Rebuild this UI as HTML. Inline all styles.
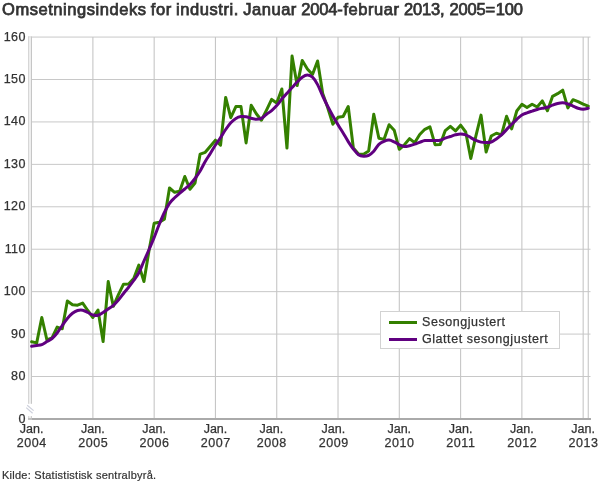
<!DOCTYPE html>
<html><head><meta charset="utf-8"><style>
*{margin:0;padding:0;box-sizing:border-box}
html,body{width:610px;height:488px;background:#fff;overflow:hidden}
body{position:relative;will-change:transform;font-family:"Liberation Sans",sans-serif;color:#333}
.title{position:absolute;left:2px;top:-0.5px;font-size:16.5px;font-weight:normal;-webkit-text-stroke:0.75px #333;color:#333;white-space:nowrap;letter-spacing:0.55px;word-spacing:-0.8px}
.title .d{letter-spacing:-0.15px}
svg{position:absolute;left:0;top:0}
.g{stroke:#c8c8c8;stroke-width:1}
.gv{stroke:#c6c6c6;stroke-width:1.1}
.yl{position:absolute;right:584.2px;width:40px;text-align:right;font-size:12.5px;line-height:17px;letter-spacing:0.4px;-webkit-text-stroke:0.25px #333}
.xl{position:absolute;top:422.1px;width:60px;text-align:center;font-size:12.5px;line-height:14px;-webkit-text-stroke:0.25px #333}
.xl span{letter-spacing:0.55px;margin-right:-0.55px}
.leg{position:absolute;left:380px;top:310.5px;width:180px;height:38.5px;border:1px solid #d2d2d2;background:#fff}
.li{position:absolute;left:41px;font-size:12.5px;white-space:nowrap;letter-spacing:0.55px;-webkit-text-stroke:0.25px #333}
.ls{position:absolute;left:8px;width:28px;height:3px}
.src{position:absolute;left:2px;top:468.8px;font-size:11px;white-space:nowrap;letter-spacing:0.25px;-webkit-text-stroke:0.2px #333}
</style></head><body>
<div class="title">Omsetningsindeks for industri. Januar <span class="d">2004</span>-februar <span class="d">2013</span>, <span class="d">2005</span>=<span class="d">100</span></div>
<svg width="610" height="488" viewBox="0 0 610 488">
<line x1="28" x2="590.5" y1="376.51" y2="376.51" class="g"/>
<line x1="28" x2="590.5" y1="334.08" y2="334.08" class="g"/>
<line x1="28" x2="590.5" y1="291.65" y2="291.65" class="g"/>
<line x1="28" x2="590.5" y1="249.22" y2="249.22" class="g"/>
<line x1="28" x2="590.5" y1="206.79" y2="206.79" class="g"/>
<line x1="28" x2="590.5" y1="164.36" y2="164.36" class="g"/>
<line x1="28" x2="590.5" y1="121.93" y2="121.93" class="g"/>
<line x1="28" x2="590.5" y1="79.50" y2="79.50" class="g"/>
<line x1="28" x2="590.5" y1="37.07" y2="37.07" class="g"/>
<line x1="92.88" x2="92.88" y1="37" y2="418" class="gv"/>
<line x1="154.17" x2="154.17" y1="37" y2="418" class="gv"/>
<line x1="215.45" x2="215.45" y1="37" y2="418" class="gv"/>
<line x1="276.74" x2="276.74" y1="37" y2="418" class="gv"/>
<line x1="338.02" x2="338.02" y1="37" y2="418" class="gv"/>
<line x1="399.30" x2="399.30" y1="37" y2="418" class="gv"/>
<line x1="460.59" x2="460.59" y1="37" y2="418" class="gv"/>
<line x1="521.87" x2="521.87" y1="37" y2="418" class="gv"/>
<line x1="583.16" x2="583.16" y1="37" y2="418" class="gv"/>
<line x1="588.26" x2="588.26" y1="37" y2="418" class="gv"/>
<rect x="28" y="36.5" width="1" height="367.3" fill="#d6d6d6"/>
<rect x="29" y="37.5" width="2" height="366.3" fill="#eeeeee"/>
<rect x="31" y="36.5" width="1" height="367.3" fill="#c6c6c6"/>
<line x1="27.2" y1="405.3" x2="33.6" y2="410.6" stroke="#cdd0dc" stroke-width="1.2"/>
<line x1="26.2" y1="407.6" x2="32.6" y2="413.2" stroke="#cdd0dc" stroke-width="1.2"/>
<rect x="28" y="416" width="1" height="2" fill="#dcdcdc"/><rect x="29" y="416" width="2" height="2" fill="#f0f0f0"/><rect x="31" y="416" width="1" height="2" fill="#d0d0d0"/>
<line x1="28" x2="32" y1="418.94" y2="418.94" stroke="#c0c0c0" stroke-width="2"/>
<line x1="32" x2="591" y1="418.94" y2="418.94" stroke="#aaaaaa" stroke-width="2"/>
<polyline points="31.60,341.80 36.71,342.90 41.81,317.50 46.92,340.00 52.03,338.00 57.14,327.10 62.24,328.80 67.35,301.00 72.46,304.80 77.56,305.20 82.67,303.10 87.78,310.50 92.88,317.50 97.99,310.00 103.10,341.50 108.21,281.60 113.31,306.30 118.42,294.70 123.53,284.20 128.63,284.10 133.74,278.50 138.85,265.10 143.95,281.50 149.06,250.20 154.17,223.30 159.28,222.30 164.38,219.30 169.49,188.00 174.60,192.30 179.70,191.30 184.81,176.50 189.92,189.30 195.02,183.00 200.13,154.10 205.24,152.30 210.34,146.20 215.45,140.20 220.56,145.20 225.67,97.40 230.77,117.70 235.88,106.60 240.99,106.60 246.09,142.90 251.20,105.30 256.31,113.80 261.42,120.20 266.52,110.10 271.63,99.40 276.74,103.00 281.84,89.00 286.95,148.10 292.06,56.10 297.16,85.60 302.27,60.40 307.38,69.00 312.49,74.50 317.59,61.00 322.70,93.50 327.81,108.00 332.91,124.20 338.02,117.30 343.13,116.50 348.23,106.50 353.34,148.00 358.45,154.00 363.56,154.20 368.66,151.00 373.77,114.20 378.88,138.20 383.98,139.40 389.09,124.70 394.20,130.20 399.30,149.30 404.41,144.80 409.52,138.60 414.63,142.70 419.73,134.50 424.84,129.30 429.95,126.80 435.05,144.70 440.16,144.50 445.27,130.60 450.37,126.30 455.48,130.90 460.59,125.20 465.70,132.00 470.80,158.50 475.91,135.90 481.02,115.10 486.12,152.00 491.23,136.00 496.34,133.20 501.44,134.90 506.55,116.30 511.66,128.90 516.76,111.00 521.87,104.30 526.98,107.50 532.09,104.20 537.19,107.00 542.30,100.90 547.41,110.70 552.51,96.40 557.62,93.70 562.73,90.20 567.84,107.90 572.94,99.70 578.05,101.70 583.16,104.20 588.26,106.20" fill="none" stroke="#348000" stroke-width="3" stroke-linejoin="round" stroke-linecap="round"/>
<path d="M31.60,346.30 C32.45,346.17 35.00,345.78 36.71,345.50 C38.41,345.22 40.11,345.27 41.81,344.60 C43.52,343.93 45.22,342.52 46.92,341.50 C48.62,340.48 50.33,339.92 52.03,338.50 C53.73,337.08 55.43,335.17 57.14,333.00 C58.84,330.83 60.54,327.92 62.24,325.50 C63.94,323.08 65.65,320.53 67.35,318.50 C69.05,316.47 70.75,314.63 72.46,313.30 C74.16,311.97 75.86,311.02 77.56,310.50 C79.27,309.98 80.97,309.87 82.67,310.20 C84.37,310.53 86.07,311.70 87.78,312.50 C89.48,313.30 91.18,314.53 92.88,315.00 C94.59,315.47 96.29,315.72 97.99,315.30 C99.69,314.88 101.40,313.55 103.10,312.50 C104.80,311.45 106.50,310.20 108.21,309.00 C109.91,307.80 111.61,306.80 113.31,305.30 C115.01,303.80 116.72,301.97 118.42,300.00 C120.12,298.03 121.82,295.63 123.53,293.50 C125.23,291.37 126.93,289.37 128.63,287.20 C130.34,285.03 132.04,282.90 133.74,280.50 C135.44,278.10 137.14,276.05 138.85,272.80 C140.55,269.55 142.25,264.88 143.95,261.00 C145.66,257.12 147.36,253.43 149.06,249.50 C150.76,245.57 152.47,241.60 154.17,237.40 C155.87,233.20 157.57,228.45 159.28,224.30 C160.98,220.15 162.68,216.00 164.38,212.50 C166.08,209.00 167.79,205.75 169.49,203.30 C171.19,200.85 172.89,199.48 174.60,197.80 C176.30,196.12 178.00,194.67 179.70,193.20 C181.41,191.73 183.11,190.45 184.81,189.00 C186.51,187.55 188.21,186.25 189.92,184.50 C191.62,182.75 193.32,180.75 195.02,178.50 C196.73,176.25 198.43,173.83 200.13,171.00 C201.83,168.17 203.54,164.42 205.24,161.50 C206.94,158.58 208.64,156.25 210.34,153.50 C212.05,150.75 213.75,147.67 215.45,145.00 C217.15,142.33 218.86,140.08 220.56,137.50 C222.26,134.92 223.96,131.95 225.67,129.50 C227.37,127.05 229.07,124.63 230.77,122.80 C232.48,120.97 234.18,119.53 235.88,118.50 C237.58,117.47 239.28,116.88 240.99,116.60 C242.69,116.32 244.39,116.52 246.09,116.80 C247.80,117.08 249.50,117.90 251.20,118.30 C252.90,118.70 254.61,119.20 256.31,119.20 C258.01,119.20 259.71,119.12 261.42,118.30 C263.12,117.48 264.82,115.58 266.52,114.30 C268.22,113.02 269.93,112.05 271.63,110.60 C273.33,109.15 275.03,107.53 276.74,105.60 C278.44,103.67 280.14,101.05 281.84,99.00 C283.55,96.95 285.25,95.20 286.95,93.30 C288.65,91.40 290.35,89.48 292.06,87.60 C293.76,85.72 295.46,83.73 297.16,82.00 C298.87,80.27 300.57,78.35 302.27,77.20 C303.97,76.05 305.68,75.10 307.38,75.10 C309.08,75.10 310.78,75.62 312.49,77.20 C314.19,78.78 315.89,81.47 317.59,84.60 C319.29,87.73 321.00,92.35 322.70,96.00 C324.40,99.65 326.10,103.17 327.81,106.50 C329.51,109.83 331.21,112.95 332.91,116.00 C334.62,119.05 336.32,121.97 338.02,124.80 C339.72,127.63 341.42,130.20 343.13,133.00 C344.83,135.80 346.53,138.93 348.23,141.60 C349.94,144.27 351.64,146.82 353.34,149.00 C355.04,151.18 356.75,153.50 358.45,154.70 C360.15,155.90 361.85,156.10 363.56,156.20 C365.26,156.30 366.96,156.13 368.66,155.30 C370.36,154.47 372.07,153.02 373.77,151.20 C375.47,149.38 377.17,146.05 378.88,144.40 C380.58,142.75 382.28,142.02 383.98,141.30 C385.69,140.58 387.39,140.00 389.09,140.10 C390.79,140.20 392.49,141.12 394.20,141.90 C395.90,142.68 397.60,144.03 399.30,144.80 C401.01,145.57 402.71,146.35 404.41,146.50 C406.11,146.65 407.82,146.08 409.52,145.70 C411.22,145.32 412.92,144.77 414.63,144.20 C416.33,143.63 418.03,142.90 419.73,142.30 C421.43,141.70 423.14,140.88 424.84,140.60 C426.54,140.32 428.24,140.60 429.95,140.60 C431.65,140.60 433.35,140.65 435.05,140.60 C436.76,140.55 438.46,140.72 440.16,140.30 C441.86,139.88 443.56,138.73 445.27,138.10 C446.97,137.47 448.67,137.05 450.37,136.50 C452.08,135.95 453.78,135.23 455.48,134.80 C457.18,134.37 458.89,133.90 460.59,133.90 C462.29,133.90 463.99,134.18 465.70,134.80 C467.40,135.42 469.10,136.67 470.80,137.60 C472.50,138.53 474.21,139.65 475.91,140.40 C477.61,141.15 479.31,141.75 481.02,142.10 C482.72,142.45 484.42,142.52 486.12,142.50 C487.83,142.48 489.53,142.60 491.23,142.00 C492.93,141.40 494.63,140.08 496.34,138.90 C498.04,137.72 499.74,136.45 501.44,134.90 C503.15,133.35 504.85,131.37 506.55,129.60 C508.25,127.83 509.96,126.02 511.66,124.30 C513.36,122.58 515.06,120.85 516.76,119.30 C518.47,117.75 520.17,116.08 521.87,115.00 C523.57,113.92 525.28,113.45 526.98,112.80 C528.68,112.15 530.38,111.65 532.09,111.10 C533.79,110.55 535.49,109.97 537.19,109.50 C538.90,109.03 540.60,108.67 542.30,108.30 C544.00,107.93 545.70,107.82 547.41,107.30 C549.11,106.78 550.81,105.83 552.51,105.20 C554.22,104.57 555.92,103.90 557.62,103.50 C559.32,103.10 561.03,102.72 562.73,102.80 C564.43,102.88 566.13,103.45 567.84,104.00 C569.54,104.55 571.24,105.38 572.94,106.10 C574.64,106.82 576.35,107.77 578.05,108.30 C579.75,108.83 581.45,109.30 583.16,109.30 C584.86,109.30 587.41,108.47 588.26,108.30" fill="none" stroke="#600080" stroke-width="3" stroke-linejoin="round" stroke-linecap="round"/>
</svg>
<div class="yl" style="top:368.0px">80</div>
<div class="yl" style="top:325.6px">90</div>
<div class="yl" style="top:283.1px">100</div>
<div class="yl" style="top:240.7px">110</div>
<div class="yl" style="top:198.3px">120</div>
<div class="yl" style="top:155.9px">130</div>
<div class="yl" style="top:113.4px">140</div>
<div class="yl" style="top:71.0px">150</div>
<div class="yl" style="top:28.6px">160</div>
<div class="yl" style="top:411.4px">0</div>
<div class="xl" style="left:1.6px">Jan.<br><span>2004</span></div>
<div class="xl" style="left:62.9px">Jan.<br><span>2005</span></div>
<div class="xl" style="left:124.2px">Jan.<br><span>2006</span></div>
<div class="xl" style="left:185.5px">Jan.<br><span>2007</span></div>
<div class="xl" style="left:241.4px">Jan.<br><span>2008</span></div>
<div class="xl" style="left:303.4px">Jan.<br><span>2009</span></div>
<div class="xl" style="left:369.3px">Jan.<br><span>2010</span></div>
<div class="xl" style="left:430.6px">Jan.<br><span>2011</span></div>
<div class="xl" style="left:491.9px">Jan.<br><span>2012</span></div>
<div class="xl" style="left:553.2px">Jan.<br><span>2013</span></div>
<div class="leg">
<div class="ls" style="top:9.8px;background:#348000"></div>
<div class="li" style="top:3.3px">Sesongjustert</div>
<div class="ls" style="top:26px;background:#600080"></div>
<div class="li" style="top:20.4px">Glattet sesongjustert</div>
</div>
<div class="src">Kilde: Statististisk sentralbyrå.</div>
</body></html>
